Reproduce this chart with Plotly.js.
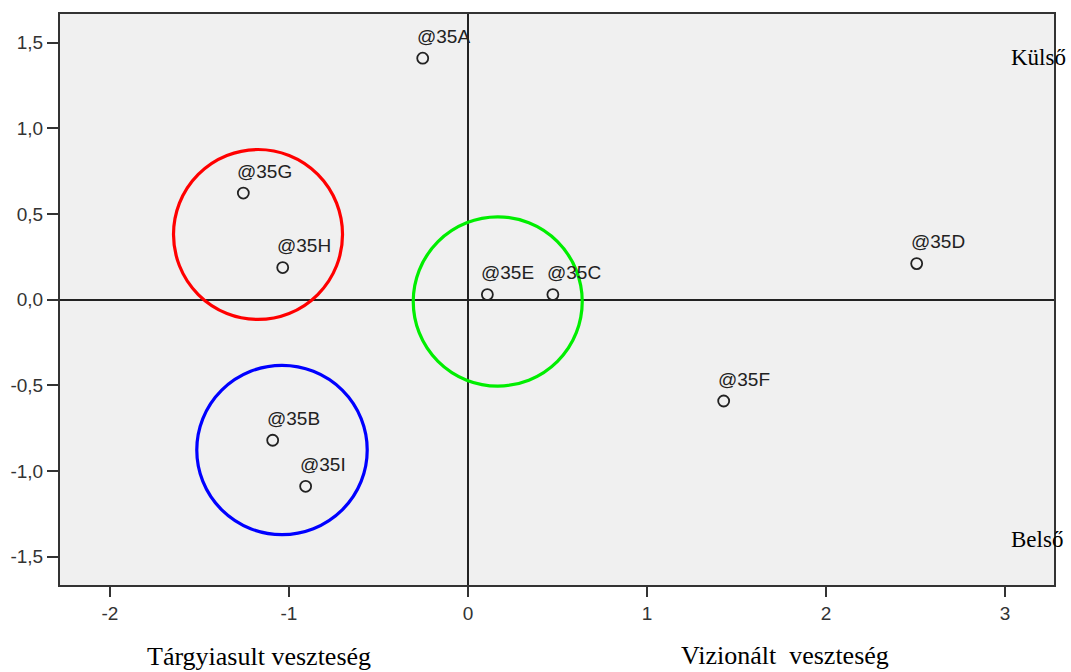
<!DOCTYPE html>
<html>
<head>
<meta charset="utf-8">
<script src="https://cdn.plot.ly/plotly-3.0.1.min.js"></script>
<style>html,body{margin:0;padding:0;background:#fff;}#chart{width:1071px;height:672px;}</style>
</head>
<body>
<div id="chart"></div>
<script>
// Data
const pointLabels = ["@35A", "@35G", "@35H", "@35E", "@35C", "@35D", "@35F", "@35B", "@35I"];
const pointX = [-0.253, -1.255, -1.035, 0.108, 0.474, 2.506, 1.428, -1.091, -0.907];
const pointY = [1.410, 0.623, 0.188, 0.030, 0.030, 0.211, -0.591, -0.820, -1.089];

const circleCenterX = [-1.173, 0.166, -1.039];
const circleCenterY = [0.381, -0.010, -0.877];
const circleRadiusX = [0.472, 0.472, 0.476];
const circleRadiusY = [0.496, 0.494, 0.494];
const circleColors = ["#ff0000", "#00ee00", "#0000ff"];

const xTickVals = [-2, -1, 0, 1, 2, 3];
const xTickText = ["-2", "-1", "0", "1", "2", "3"];
const yTickVals = [1.5, 1.0, 0.5, 0.0, -0.5, -1.0, -1.5];
const yTickText = ["1,5", "1,0", "0,5", "0,0", "-0,5", "-1,0", "-1,5"];

const quadrantLabels = ["Külső", "Belső"];
const axisLabels = ["Tárgyiasult veszteség", "Vizionált\u00A0 veszteség"];

const trace = {
  x: pointX,
  y: pointY,
  mode: "markers",
  type: "scatter",
  marker: {symbol: "circle-open", size: 11, color: "#222", line: {width: 1.8, color: "#222"}},
  hoverinfo: "skip",
  showlegend: false
};

const shapes = circleCenterX.map((cx, i) => ({
  type: "circle", xref: "x", yref: "y",
  x0: cx - circleRadiusX[i], x1: cx + circleRadiusX[i],
  y0: circleCenterY[i] - circleRadiusY[i], y1: circleCenterY[i] + circleRadiusY[i],
  line: {color: circleColors[i], width: 3.2}
}));

const annotations = pointLabels.map((t, i) => ({
  x: pointX[i], y: pointY[i], xref: "x", yref: "y", text: t, showarrow: false,
  xanchor: "left", yanchor: "middle", xshift: -8, yshift: 22,
  font: {family: "Liberation Sans, Arial, sans-serif", size: 19, color: "#222"}
}));

annotations.push(
  {x: 0.955, y: 0.923, xref: "paper", yref: "paper", text: quadrantLabels[0], showarrow: false,
   xanchor: "left", yanchor: "middle", font: {family: "Liberation Serif, Times New Roman, serif", size: 23, color: "#000"}},
  {x: 0.955, y: 0.079, xref: "paper", yref: "paper", text: quadrantLabels[1], showarrow: false,
   xanchor: "left", yanchor: "middle", font: {family: "Liberation Serif, Times New Roman, serif", size: 23, color: "#000"}},
  {x: 0.200, y: -0.125, xref: "paper", yref: "paper", text: axisLabels[0], showarrow: false,
   xanchor: "center", yanchor: "middle", font: {family: "Liberation Serif, Times New Roman, serif", size: 26, color: "#000"}},
  {x: 0.729, y: -0.124, xref: "paper", yref: "paper", text: axisLabels[1], showarrow: false,
   xanchor: "center", yanchor: "middle", font: {family: "Liberation Serif, Times New Roman, serif", size: 26, color: "#000"}}
);

const layout = {
  width: 1071, height: 672,
  margin: {l: 60, r: 17, t: 14, b: 87},
  paper_bgcolor: "#ffffff",
  plot_bgcolor: "#f0f0f0",
  showlegend: false,
  xaxis: {
    range: [-2.279, 3.273], tickvals: xTickVals, ticktext: xTickText,
    showgrid: false, zeroline: true, zerolinecolor: "#222", zerolinewidth: 2.5,
    showline: true, mirror: true, linecolor: "#333", linewidth: 2,
    ticks: "outside", ticklen: 10, tickwidth: 2, tickcolor: "#333",
    tickfont: {family: "Liberation Sans, Arial, sans-serif", size: 19, color: "#333"}
  },
  yaxis: {
    range: [-1.665, 1.668], tickvals: yTickVals, ticktext: yTickText,
    showgrid: false, zeroline: true, zerolinecolor: "#222", zerolinewidth: 2.5,
    showline: true, mirror: true, linecolor: "#333", linewidth: 2,
    ticks: "outside", ticklen: 11, tickwidth: 2, tickcolor: "#333",
    tickfont: {family: "Liberation Sans, Arial, sans-serif", size: 19, color: "#333"}
  },
  shapes: shapes,
  annotations: annotations
};

Plotly.newPlot("chart", [trace], layout, {displayModeBar: false, staticPlot: true});
</script>
</body>
</html>
